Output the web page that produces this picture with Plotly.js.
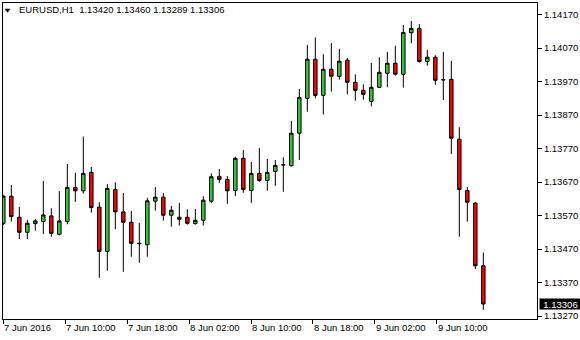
<!DOCTYPE html>
<html>
<head>
<meta charset="utf-8">
<script src="https://cdn.plot.ly/plotly-3.0.1.min.js"></script>
<style>html,body{margin:0;padding:0;background:#fff;}#chart{width:580px;height:340px;}</style>
</head>
<body>
<div id="chart"></div>
<script>
// Hourly EURUSD H1 bars
var openP  = [1.13547,1.13628,1.13565,1.13520,1.13546,1.13552,1.13569,1.13514,1.13552,1.13654,
              1.13644,1.13699,1.13595,1.13463,1.13648,1.13581,1.13550,1.13486,1.13483,1.13613,
              1.13625,1.13571,1.13559,1.13565,1.13546,1.13556,1.13613,1.13687,1.13678,1.13645,
              1.13741,1.13645,1.13696,1.13675,1.13702,1.13721,1.13719,1.13816,1.13920,1.14037,
              1.13929,1.14007,1.13986,1.14034,1.13968,1.13944,1.13911,1.13953,1.13995,1.14025,
              1.13992,1.14116,1.14129,1.14030,1.14043,1.13975,1.13977,1.13798,1.13645,1.13607,
              1.13420];
var highP  = [1.13632,1.13661,1.13596,1.13557,1.13560,1.13673,1.13592,1.13643,1.13724,1.13698,
              1.13806,1.13715,1.13610,1.13664,1.13669,1.13637,1.13584,1.13548,1.13623,1.13655,
              1.13637,1.13599,1.13608,1.13589,1.13590,1.13628,1.13696,1.13709,1.13688,1.13746,
              1.13766,1.13730,1.13772,1.13739,1.13736,1.13744,1.13853,1.13948,1.14080,1.14102,
              1.14052,1.14085,1.14068,1.14041,1.13992,1.13962,1.14026,1.14043,1.14059,1.14077,
              1.14139,1.14151,1.14142,1.14065,1.14049,1.14059,1.14032,1.13834,1.13655,1.13610,
              1.13460];
var lowP   = [1.13542,1.13552,1.13500,1.13500,1.13525,1.13515,1.13507,1.13511,1.13544,1.13611,
              1.13636,1.13579,1.13384,1.13405,1.13529,1.13402,1.13447,1.13429,1.13447,1.13585,
              1.13555,1.13537,1.13540,1.13543,1.13543,1.13540,1.13607,1.13668,1.13605,1.13628,
              1.13638,1.13608,1.13671,1.13644,1.13659,1.13641,1.13716,1.13736,1.13880,1.13920,
              1.13872,1.13940,1.13976,1.13932,1.13913,1.13916,1.13896,1.13952,1.13953,1.13988,
              1.13952,1.14085,1.14027,1.14018,1.13961,1.13915,1.13754,1.13507,1.13552,1.13410,
              1.13289];
var closeP = [1.13628,1.13567,1.13520,1.13547,1.13554,1.13572,1.13517,1.13554,1.13654,1.13644,
              1.13696,1.13594,1.13463,1.13651,1.13581,1.13550,1.13487,1.13487,1.13614,1.13625,
              1.13571,1.13586,1.13565,1.13547,1.13556,1.13616,1.13686,1.13678,1.13644,1.13741,
              1.13648,1.13696,1.13675,1.13699,1.13720,1.13722,1.13816,1.13923,1.14037,1.13929,
              1.14007,1.13986,1.14031,1.13968,1.13944,1.13932,1.13953,1.13998,1.14025,1.13992,
              1.14117,1.14129,1.14030,1.14043,1.13974,1.13976,1.13801,1.13648,1.13610,1.13420,
              1.13306];
var timeLabels = ["7 Jun 2016","7 Jun 10:00","7 Jun 18:00","8 Jun 02:00","8 Jun 10:00","8 Jun 18:00","9 Jun 02:00","9 Jun 10:00"];
var priceTicks = [1.13270,1.13370,1.13470,1.13570,1.13670,1.13770,1.13870,1.13970,1.14070,1.14170];
var symbolName = "EURUSD,H1";
var lastBar = {open: 1.13420, high: 1.13460, low: 1.13289, close: 1.13306};

var barIndex = openP.map(function(_, i){ return i; });
var labelStep = 7.74;
var tickPos = timeLabels.map(function(_, k){ return k * labelStep; });

var font = "Liberation Sans, Arial, sans-serif";

var trace = {
  type: "candlestick",
  x: barIndex, open: openP, high: highP, low: lowP, close: closeP,
  increasing: {line: {color: "#000000", width: 1}, fillcolor: "#32CD32"},
  decreasing: {line: {color: "#000000", width: 1}, fillcolor: "#FF0000"},
  whiskerwidth: 0,
  hoverinfo: "skip",
  showlegend: false
};

var annotations = timeLabels.map(function(t, k){
  return {x: tickPos[k], xref: "x", xanchor: "left", xshift: -1,
          y: -0.028, yref: "paper", yanchor: "middle",
          text: t, showarrow: false, font: {family: font, size: 9.5, color: "#000"}};
});
annotations.push({
  x: 0.0265, xref: "paper", xanchor: "left", y: 0.978, yref: "paper", yanchor: "middle",
  text: symbolName + "\u00a0\u00a0" + [lastBar.open, lastBar.high, lastBar.low, lastBar.close].map(function(v){return v.toFixed(5);}).join(" "),
  showarrow: false, font: {family: font, size: 9.5, color: "#000"}
});
annotations.push({
  x: 1, xref: "paper", xanchor: "left", xshift: 2,
  y: lastBar.close, yref: "y", yanchor: "middle",
  text: lastBar.close.toFixed(5), showarrow: false,
  bgcolor: "#000000", width: 41, height: 10, borderpad: 0, align: "center",
  font: {family: font, size: 9.5, color: "#ffffff"}
});

var layout = {
  width: 580, height: 340,
  margin: {l: 3, r: 43, t: 3, b: 21},
  paper_bgcolor: "#ffffff", plot_bgcolor: "#ffffff",
  boxgap: 0.38,
  showlegend: false,
  xaxis: {
    range: [-0.04, 66.71], type: "linear",
    rangeslider: {visible: false},
    showgrid: false, zeroline: false,
    showline: true, mirror: true, linecolor: "#000", linewidth: 1,
    ticks: "outside", ticklen: 4, tickcolor: "#000", tickwidth: 1,
    tickmode: "array", tickvals: tickPos, ticktext: timeLabels,
    showticklabels: false, fixedrange: true
  },
  yaxis: {
    side: "right", range: [1.132611, 1.142049],
    showgrid: false, zeroline: false,
    showline: true, mirror: true, linecolor: "#000", linewidth: 1,
    ticks: "outside", ticklen: 4, tickcolor: "#000", tickwidth: 1,
    tickmode: "array", tickvals: priceTicks,
    ticktext: priceTicks.map(function(v){ return v.toFixed(5); }),
    tickfont: {family: font, size: 9.5, color: "#000"},
    fixedrange: true
  },
  shapes: [{
    type: "path", xref: "paper", yref: "paper",
    path: "M 0.00375 0.98101 L 0.01311 0.98101 L 0.00843 0.97057 Z",
    fillcolor: "#000", line: {color: "#000", width: 0.5}
  }],
  annotations: annotations
};

Plotly.newPlot("chart", [trace], layout, {staticPlot: true, displayModeBar: false});
</script>
</body>
</html>
